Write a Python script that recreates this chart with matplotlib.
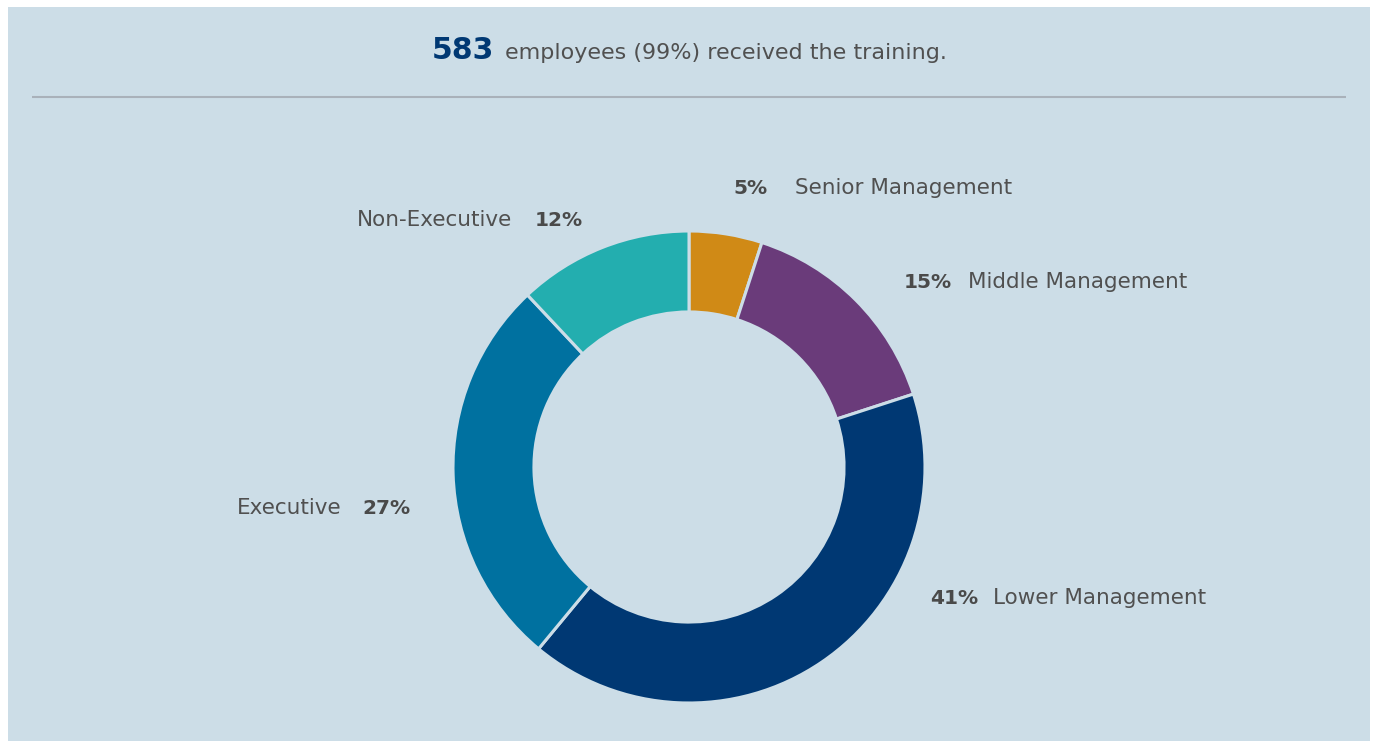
import matplotlib
matplotlib.use("Agg")
import matplotlib.pyplot as plt
from matplotlib.patches import Rectangle

# training coverage by staff level
categories = ["Senior Management", "Middle Management", "Lower Management",
              "Executive", "Non-Executive"]
shares = [5, 15, 41, 27, 12]
colors = ["#D08A16", "#6A3B7A", "#003873", "#0071A0", "#23AEAF"]
trained_count = 583
trained_pct = 99

BG = "#CCDDE7"
TEXT = "#505050"
FONT = "DejaVu Sans"

W, H = 1375, 742
fig = plt.figure(figsize=(W / 100, H / 100), dpi=100, facecolor="white")
ax = fig.add_axes([0, 0, 1, 1])

# panel background (pixel-based coordinates)
ax.add_patch(Rectangle((8, 1), 1362, 734, facecolor=BG, edgecolor="none", zorder=0))

# donut
cx, cy, R = 689, H - 467, 236
ax.pie(shares, colors=colors, startangle=90, counterclock=False,
       radius=R, center=(cx, cy), frame=True,
       wedgeprops=dict(width=R * 0.343, edgecolor=BG, linewidth=2.2))
ax.set_xlim(0, W)
ax.set_ylim(0, H)
ax.set_aspect("auto")
ax.axis("off")

# headline
y_head = H - 59
t_num = ax.text(0, y_head, f"{trained_count}", fontsize=21.5, fontweight="bold",
                color="#003873", ha="left", va="baseline", family=FONT)
t_txt = ax.text(0, y_head, f"employees ({trained_pct}%) received the training.",
                fontsize=16, color=TEXT, ha="left", va="baseline", family=FONT)
fig.canvas.draw()
r = fig.canvas.get_renderer()
w_num = t_num.get_window_extent(r).width
w_txt = t_txt.get_window_extent(r).width
gap = 11
x0 = cx - (w_num + gap + w_txt) / 2
t_num.set_x(x0)
t_txt.set_x(x0 + w_num + gap)

ax.plot([32, 1346], [H - 97, H - 97], color="#A9B1BA", lw=1.5, solid_capstyle="butt")

# slice labels: (percent x, name x, baseline y from top, side)
label_layout = [
    (733, 795, 194, "right"),
    (904, 968, 288, "right"),
    (930, 993, 604, "right"),
    (362, 342, 514, "left"),
    (535, 512, 226, "left"),
]
for name, val, (px, nx, by, side) in zip(categories, shares, label_layout):
    ax.text(px, H - by, f"{val}%", fontsize=14.5, fontweight="bold", color="#4A4A4A",
            ha="left", va="baseline", family=FONT)
    ax.text(nx, H - by, name, fontsize=15.5, color=TEXT,
            ha="left" if side == "right" else "right", va="baseline", family=FONT)

fig.savefig("out.png", dpi=100, facecolor=fig.get_facecolor())
